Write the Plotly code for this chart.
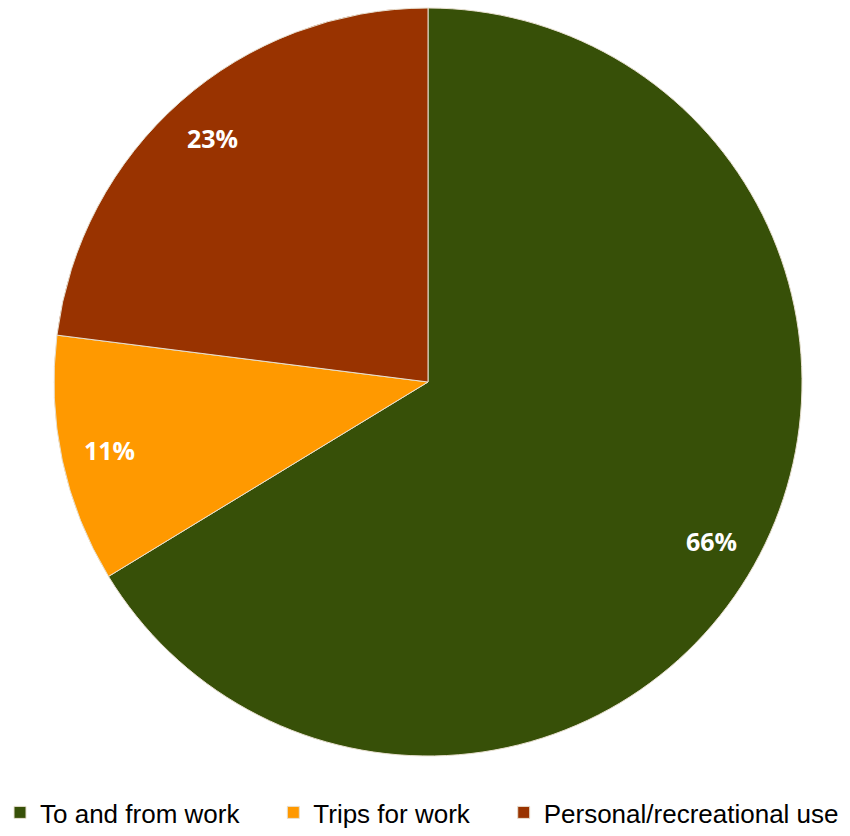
import math
import plotly.graph_objects as go

categories = ["To and from work", "Trips for work", "Personal/recreational use"]
values = [66.3, 10.7, 23.0]
colors = ["#375008", "#FF9900", "#993300"]

W, H = 850, 836
cx, cy, R = 428, 382, 374  # pie centre/radius in px (top-left origin)

# trailing non-breaking spaces widen the gap between legend entries
legend_labels = [c + ("\u00a0" * 4 if i < len(categories) - 1 else "")
                 for i, c in enumerate(categories)]

fig = go.Figure(go.Pie(
    labels=legend_labels, values=values, sort=False, direction="clockwise", rotation=0,
    marker=dict(colors=colors, line=dict(color="#e8e0d0", width=1)),
    textinfo="none", hoverinfo="label+percent",
    domain=dict(x=[(cx - R) / W, (cx + R) / W], y=[(H - cy - R) / H, (H - cy + R) / H]),
))

total = sum(values)
cum = 0
for v in values:
    mid = (cum + v / 2) / total * 2 * math.pi
    cum += v
    r = 0.87 * R
    px = cx + r * math.sin(mid)
    py = cy - r * math.cos(mid)
    fig.add_annotation(x=px / W, y=1 - py / H, xref="paper", yref="paper",
                       xanchor="center", yanchor="middle",
                       text=f"<b>{round(v / total * 100)}%</b>", showarrow=False,
                       font=dict(color="white", size=25, family="Open Sans"))

fig.update_layout(
    width=W, height=H, margin=dict(l=0, r=0, t=0, b=0),
    paper_bgcolor="white", plot_bgcolor="white",
    legend=dict(orientation="h", x=0.0, xanchor="left", y=0.0, yanchor="bottom",
                font=dict(size=26, family="Liberation Sans", color="black"),
                itemwidth=30, traceorder="normal"),
)
fig.write_html("out.html")
